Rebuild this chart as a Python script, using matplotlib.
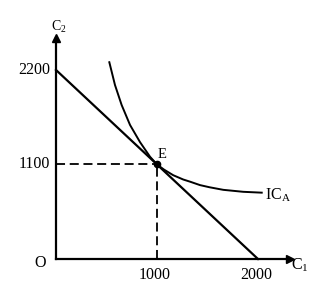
import numpy as np
import matplotlib
matplotlib.use("Agg")
import matplotlib.pyplot as plt

plt.rcParams['font.family'] = ['Liberation Serif', 'DejaVu Serif']
plt.rcParams['mathtext.fontset'] = 'custom'
plt.rcParams['mathtext.rm'] = 'Liberation Serif'
plt.rcParams['mathtext.it'] = 'Liberation Serif:italic'

# budget line end points (C1, C2)
budget_c1 = [0, 2000]
budget_c2 = [2200, 0]

# indifference curve IC_A
ic_c1 = [528, 584, 650, 733, 832, 931, 1000, 1070, 1161, 1260, 1327, 1426, 1520, 1656, 1854, 2037]
ic_c2 = [2290, 2025, 1792, 1560, 1360, 1190, 1100, 1040, 975, 925, 900, 860, 835, 805, 782, 772]

# equilibrium point E
e_c1 = 1000
e_c2 = 1100

x_ticks = [1000, 2000]
y_ticks = [1100, 2200]

fig = plt.figure(figsize=(3.25, 3.03), dpi=100)
ax = fig.add_axes([56 / 325, 44 / 303, 234 / 325, 221 / 303])
ax.set_xlim(0, 2317)
ax.set_ylim(0, 2572)

for s in ['top', 'right']:
    ax.spines[s].set_visible(False)
for s in ['left', 'bottom']:
    ax.spines[s].set_linewidth(1.6)
ax.set_xticks([])
ax.set_yticks([])
ax.patch.set_alpha(0)

# arrow heads
ax.plot(1, 0, '>k', ms=6, transform=ax.transAxes, clip_on=False)
ax.plot(0, 1, '^k', ms=6, transform=ax.transAxes, clip_on=False)

ax.plot(budget_c1, budget_c2, color='black', lw=1.6, clip_on=False)
ax.plot(ic_c1, ic_c2, color='black', lw=1.4, clip_on=False)

dash = (0, (5, 2.6))
ax.plot([0, e_c1], [e_c2, e_c2], color='black', lw=1.3, ls=dash)
ax.plot([e_c1, e_c1], [0, e_c2], color='black', lw=1.3, ls=dash)
ax.plot(e_c1, e_c2, 'o', color='black', ms=4.5)

fs = 11.5
for v in y_ticks:
    ax.text(-60, v, str(v), ha='right', va='center', fontsize=fs)
for v in x_ticks:
    ax.text(v - 20, -90, str(v), ha='center', va='top', fontsize=fs)
ax.text(-160, -50, 'O', ha='center', va='center', fontsize=fs)

ax.text(-45, 2654, r'C$_2$', ha='left', va='baseline', fontsize=10)
ax.text(2330, -75, r'C$_1$', ha='left', va='center', fontsize=fs)
ax.text(1010, 1176, 'E', ha='left', va='baseline', fontsize=10.5)
ax.text(2070, 740, r'IC$_\mathrm{A}$', ha='left', va='center', fontsize=fs)

fig.savefig('out.png', dpi=100)
